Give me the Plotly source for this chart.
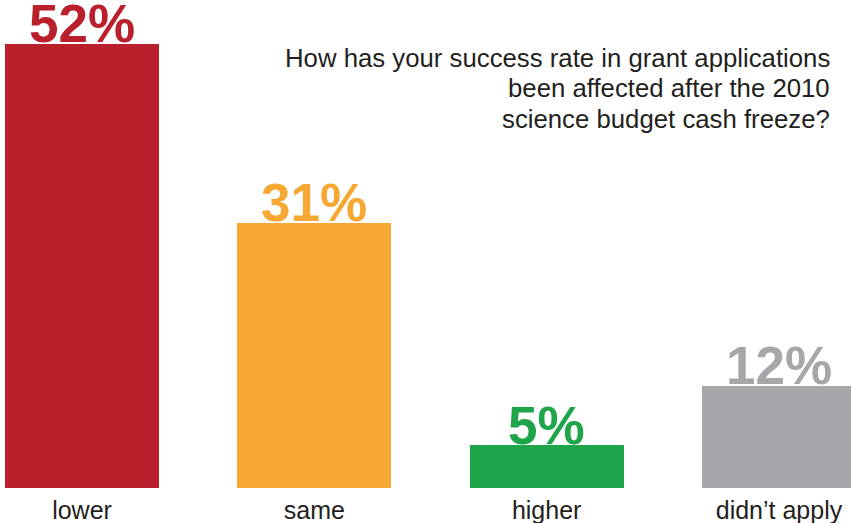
import plotly.graph_objects as go

# Survey responses
categories = ["lower", "same", "higher", "didn’t apply"]
percentages = [52, 31, 5, 12]
bar_colors = ["#BA1F2C", "#F7A833", "#1EA54A", "#A5A7AA"]
label_texts = [f"{v}%" for v in percentages]
question_lines = [
    "How has your success rate in grant applications",
    "been affected after the 2010",
    "science budget cash freeze?",
]

W, H = 851, 523
BOTTOM = 35
PLOT_H = H - BOTTOM
FONT = "Liberation Sans, Arial, Helvetica, sans-serif"
TEXT_COLOR = "#231F20"

fig = go.Figure(
    go.Bar(
        x=categories,
        y=percentages,
        marker=dict(color=bar_colors, line=dict(width=0)),
        width=0.663,
        hoverinfo="skip",
    )
)

# Percentage labels: baseline resting on the top of each bar
LABEL_SIZE = 53
for cat, val, txt, col in zip(categories, percentages, label_texts, bar_colors):
    fig.add_annotation(
        x=cat, y=val, xref="x", yref="y",
        text=f"<b>{txt}</b>",
        showarrow=False,
        xanchor="center", yanchor="bottom",
        yshift=-(0.212 * LABEL_SIZE + 1) + 1,
        font=dict(family=FONT, size=LABEL_SIZE, color=col),
    )

# Question, right-aligned in the upper right, one annotation per line
TITLE_SIZE = 25.75
baselines = [67.3, 97.8, 128.3]
for line, base in zip(question_lines, baselines):
    bottom_px = base + 0.212 * TITLE_SIZE + 1
    fig.add_annotation(
        x=832 / W, y=1 - bottom_px / PLOT_H, xref="paper", yref="paper",
        text=line, showarrow=False,
        xanchor="right", yanchor="bottom", align="right",
        font=dict(family=FONT, size=TITLE_SIZE, color=TEXT_COLOR),
    )

fig.update_layout(
    width=W, height=H,
    margin=dict(l=0, r=0, t=0, b=BOTTOM),
    paper_bgcolor="white", plot_bgcolor="white",
    showlegend=False,
    bargap=0,
    xaxis=dict(
        type="category",
        range=[-0.353, 3.310],
        showgrid=False, zeroline=False, showline=False,
        ticks="", ticklabelstandoff=5,
        tickfont=dict(family=FONT, size=25, color=TEXT_COLOR),
    ),
    yaxis=dict(
        range=[0, 57.14],
        visible=False, showgrid=False, zeroline=False,
    ),
)

fig.write_html("out.html")
